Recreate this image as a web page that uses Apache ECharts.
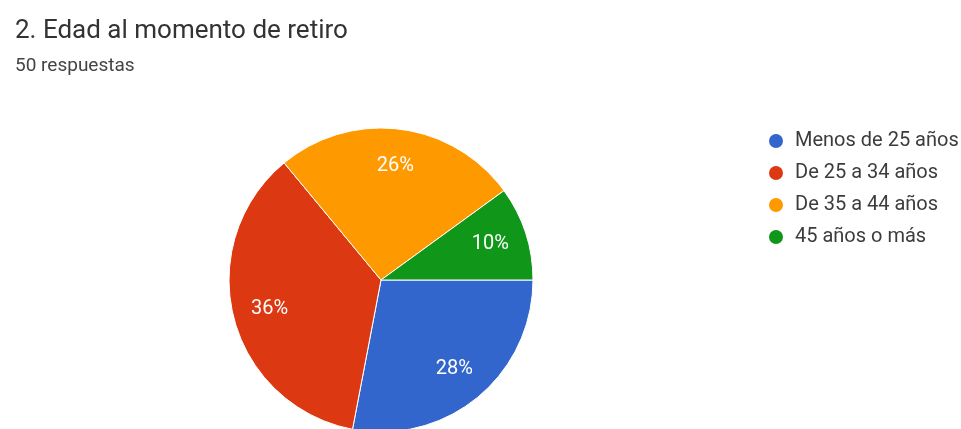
<!DOCTYPE html>
<html>
<head>
<meta charset="utf-8">
<script src="https://cdn.jsdelivr.net/npm/echarts@6/dist/echarts.min.js"></script>
<style>
  html, body { margin: 0; padding: 0; background: #fff; }
  #chart { width: 961px; height: 429px; }
</style>
</head>
<body>
<div id="chart"></div>
<script>
// Answers to question 2 (age at retirement), 50 responses
const categories = ['Menos de 25 años', 'De 25 a 34 años', 'De 35 a 44 años', '45 años o más'];
const counts = [14, 18, 13, 5];
const colors = ['#3366cc', '#dc3912', '#ff9900', '#109618'];
const titleText = '2. Edad al momento de retiro';
const subtitleText = '50 respuestas';

const total = counts.reduce((a, b) => a + b, 0);
const items = categories.map((name, i) => ({ name, value: counts[i], itemStyle: { color: colors[i] } }));

const chart = echarts.init(document.getElementById('chart'));
const center = [381, 280];

chart.setOption({
  animation: false,
  title: {
    text: titleText,
    subtext: subtitleText,
    left: 10,
    top: 13,
    itemGap: 13,
    textStyle: { fontFamily: 'Roboto', fontSize: 26, fontWeight: 'normal', color: '#333' },
    subtextStyle: { fontFamily: 'Roboto', fontSize: 19, color: '#444' }
  },
  legend: {
    orient: 'vertical',
    left: 762,
    top: 126,
    icon: 'circle',
    itemWidth: 16,
    itemHeight: 16,
    itemGap: 12,
    data: categories,
    textStyle: { fontFamily: 'Roboto', fontSize: 20, color: '#3c3c3c', padding: [0, 0, 0, 6] }
  },
  series: [
    {
      type: 'pie',
      center: center,
      radius: [0, 152],
      startAngle: 0,
      clockwise: true,
      label: { show: false },
      labelLine: { show: false },
      itemStyle: { borderColor: '#fff', borderWidth: 1 },
      emphasis: { disabled: true },
      data: items
    },
    {
      // transparent ring used only to place the percentage labels
      type: 'pie',
      center: center,
      radius: [72, 152],
      startAngle: 0,
      clockwise: true,
      silent: true,
      legendHoverLink: false,
      itemStyle: { color: 'rgba(0,0,0,0)' },
      label: {
        show: true,
        position: 'inside',
        color: '#fff',
        fontFamily: 'Roboto',
        fontSize: 20,
        formatter: p => Math.round(p.value / total * 100) + '%'
      },
      labelLine: { show: false },
      emphasis: { disabled: true },
      data: categories.map((name, i) => ({ name: name + ' ', value: counts[i] }))
    }
  ]
});
</script>
</body>
</html>
